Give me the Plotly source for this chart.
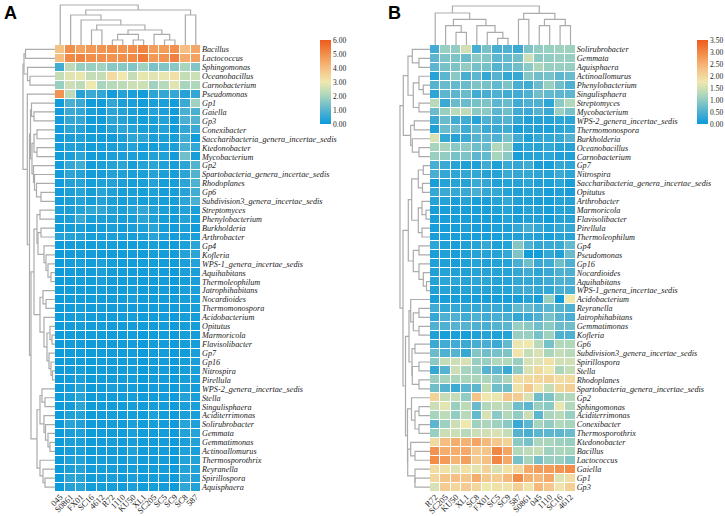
import plotly.graph_objects as go

columns_a = ["045","S0861","FX01","SC16","4612","R72","1110","KU50","XL1","SC205","SC5","SC9","SC8","587"]
columns_b = ["R72","SC205","KU50","XL1","SC8","FX01","SC5","SC9","587","S0861","045","1110","SC16","4612"]

rows_a = ["Bacillus","Lactococcus","Sphingomonas","Oceanobacillus","Carnobacterium","Pseudomonas","Gp1","Gaiella","Gp3","Conexibacter",
"Saccharibacteria_genera_incertae_sedis","Ktedonobacter","Mycobacterium","Gp2","Spartobacteria_genera_incertae_sedis","Rhodoplanes","Gp6",
"Subdivision3_genera_incertae_sedis","Streptomyces","Phenylobacterium","Burkholderia","Arthrobacter","Gp4","Kofleria","WPS-1_genera_incertae_sedis",
"Aquihabitans","Thermoleophilum","Jatrophihabitans","Nocardioides","Thermomonospora","Acidobacterium","Opitutus","Marmoricola","Flavisolibacter",
"Gp7","Gp16","Nitrospira","Pirellula","WPS-2_genera_incertae_sedis","Stella","Singulisphaera","Aciditerrimonas","Solirubrobacter","Gemmata",
"Gemmatimonas","Actinoallomurus","Thermosporothrix","Reyranella","Spirillospora","Aquisphaera"]

rows_b = ["Solirubrobacter","Gemmata","Aquisphaera","Actinoallomurus","Phenylobacterium","Singulisphaera","Streptomyces","Mycobacterium",
"WPS-2_genera_incertae_sedis","Thermomonospora","Burkholderia","Oceanobacillus","Carnobacterium","Gp7","Nitrospira",
"Saccharibacteria_genera_incertae_sedis","Opitutus","Arthrobacter","Marmoricola","Flavisolibacter","Pirellula","Thermoleophilum","Gp4","Pseudomonas",
"Gp16","Nocardioides","Aquihabitans","WPS-1_genera_incertae_sedis","Acidobacterium","Reyranella","Jatrophihabitans","Gemmatimonas","Kofleria","Gp6",
"Subdivision3_genera_incertae_sedis","Spirillospora","Stella","Rhodoplanes","Spartobacteria_genera_incertae_sedis","Gp2","Sphingomonas",
"Aciditerrimonas","Conexibacter","Thermosporothrix","Ktedonobacter","Bacillus","Lactococcus","Gaiella","Gp1","Gp3"]

values_a = [
[3.9,5.0,4.6,4.8,4.9,5.0,4.9,5.0,5.2,4.7,4.7,5.0,4.0,4.5],
[4.0,5.1,5.2,5.0,5.0,4.9,5.0,5.1,5.4,4.8,4.9,5.3,4.4,4.6],
[0.7,2.3,1.8,1.8,1.9,1.6,1.6,1.5,1.9,1.4,1.5,1.6,2.0,1.5],
[2.4,2.8,2.9,2.4,2.4,3.3,3.0,2.4,2.9,2.8,2.9,3.2,2.4,2.5],
[1.8,2.5,2.3,3.0,2.0,2.2,2.3,2.5,2.5,1.9,2.2,2.8,2.0,2.1],
[4.9,2.3,0.3,0.6,0.5,0.1,0.3,0.2,0.1,0.4,0.5,0.5,0.3,0.5],
[0.1,0.8,0.6,0.1,0.1,0.5,0.2,0.2,0.1,0.2,0.2,0.1,0.6,1.9],
[0.1,0.6,0.5,0.2,0.1,0.4,0.3,0.2,0.15,0.3,0.2,0.1,0.8,0.8],
[0.1,0.5,0.5,0.1,0.1,0.4,0.3,0.2,0.15,0.2,0.3,0.1,0.8,0.9],
[0.1,0.4,0.3,0.1,0.1,0.3,0.4,0.35,0.2,0.2,0.3,0.1,0.5,0.6],
[0.1,0.2,0.25,0.15,0.1,0.1,0.2,0.4,0.4,0.2,0.2,0.15,0.65,0.1],
[0.1,0.25,0.2,0.1,0.15,0.2,0.2,0.3,0.15,0.15,0.2,0.2,0.8,0.5],
[0.1,0.2,0.4,0.1,0.1,0.2,0.2,0.2,0.15,0.3,0.25,0.1,1.3,0.15],
[0.1,0.5,0.65,0.1,0.2,0.3,0.4,0.15,0.3,0.4,0.25,0.15,0.4,0.9],
[0.1,0.4,0.3,0.1,0.15,0.3,0.25,0.2,0.2,0.3,0.2,0.15,0.4,0.9],
[0.1,0.3,0.35,0.15,0.25,0.3,0.2,0.15,0.2,0.3,0.15,0.15,0.4,0.85],
[0.1,0.2,0.35,0.15,0.35,0.25,0.15,0.2,0.15,0.25,0.15,0.15,0.35,0.7],
[0.1,0.2,0.3,0.15,0.3,0.2,0.15,0.2,0.15,0.2,0.15,0.15,0.4,0.8],
[0.2,0.2,0.3,0.45,0.5,0.3,0.2,0.35,0.5,0.3,0.2,0.15,0.3,0.2],
[0.15,0.2,0.55,0.2,0.2,0.2,0.15,0.2,0.4,0.25,0.15,0.1,0.3,0.2],
[0.1,0.15,0.2,0.1,0.15,0.2,0.1,0.2,0.25,0.4,0.15,0.1,0.25,0.1],
[0.3,0.3,0.25,0.15,0.15,0.2,0.15,0.15,0.2,0.35,0.2,0.1,0.2,0.2],
[0.05,0.1,0.15,0.1,0.15,0.15,0.1,0.1,0.15,0.2,0.1,0.1,0.25,0.4],
[0.05,0.1,0.15,0.1,0.1,0.1,0.1,0.1,0.1,0.15,0.1,0.1,0.3,0.4],
[0.05,0.15,0.2,0.1,0.25,0.15,0.1,0.1,0.15,0.15,0.1,0.1,0.2,0.3],
[0.05,0.1,0.1,0.1,0.2,0.1,0.1,0.1,0.1,0.15,0.1,0.05,0.2,0.2],
[0.05,0.1,0.15,0.1,0.2,0.1,0.1,0.1,0.1,0.1,0.1,0.05,0.15,0.2],
[0.05,0.1,0.1,0.1,0.15,0.1,0.1,0.15,0.1,0.1,0.1,0.05,0.2,0.2],
[0.05,0.1,0.1,0.1,0.1,0.1,0.1,0.2,0.1,0.1,0.1,0.1,0.15,0.2],
[0.05,0.1,0.15,0.1,0.15,0.1,0.1,0.1,0.1,0.1,0.1,0.1,0.15,0.2],
[0.05,0.1,0.15,0.1,0.1,0.1,0.1,0.15,0.1,0.1,0.1,0.05,0.15,0.15],
[0.05,0.1,0.15,0.1,0.15,0.1,0.1,0.1,0.1,0.1,0.1,0.05,0.15,0.15],
[0.05,0.1,0.1,0.1,0.1,0.1,0.1,0.1,0.05,0.1,0.1,0.05,0.15,0.15],
[0.05,0.1,0.1,0.05,0.1,0.1,0.1,0.1,0.05,0.1,0.1,0.05,0.15,0.15],
[0.05,0.1,0.1,0.05,0.1,0.1,0.1,0.1,0.05,0.1,0.1,0.05,0.1,0.2],
[0.05,0.1,0.1,0.05,0.1,0.1,0.1,0.1,0.05,0.1,0.1,0.05,0.15,0.2],
[0.05,0.1,0.15,0.05,0.1,0.1,0.1,0.15,0.05,0.1,0.1,0.05,0.15,0.2],
[0.05,0.1,0.2,0.05,0.1,0.1,0.1,0.15,0.05,0.1,0.1,0.05,0.15,0.2],
[0.05,0.1,0.3,0.05,0.1,0.2,0.1,0.15,0.05,0.1,0.1,0.05,0.25,0.15],
[0.05,0.15,0.35,0.05,0.1,0.1,0.1,0.15,0.1,0.1,0.1,0.05,0.3,0.2],
[0.05,0.1,0.4,0.05,0.1,0.1,0.1,0.15,0.1,0.15,0.1,0.05,0.2,0.2],
[0.05,0.25,0.3,0.05,0.1,0.15,0.1,0.15,0.1,0.25,0.1,0.05,0.2,0.2],
[0.05,0.35,0.25,0.05,0.1,0.15,0.1,0.2,0.1,0.15,0.1,0.05,0.35,0.25],
[0.05,0.2,0.25,0.05,0.1,0.1,0.1,0.2,0.1,0.1,0.1,0.05,0.3,0.35],
[0.05,0.2,0.2,0.05,0.1,0.15,0.1,0.15,0.1,0.1,0.1,0.05,0.2,0.3],
[0.05,0.15,0.2,0.05,0.1,0.1,0.1,0.25,0.1,0.1,0.1,0.05,0.25,0.2],
[0.05,0.25,0.3,0.1,0.15,0.15,0.1,0.2,0.1,0.1,0.1,0.05,0.3,0.3],
[0.05,0.2,0.3,0.1,0.15,0.15,0.1,0.15,0.1,0.1,0.1,0.05,0.3,0.3],
[0.05,0.4,0.35,0.1,0.15,0.2,0.1,0.2,0.1,0.15,0.1,0.05,0.4,0.3],
[0.05,0.3,0.35,0.1,0.15,0.15,0.1,0.2,0.1,0.15,0.1,0.05,0.45,0.3],
]

values_b = [
[.4,1.05,1.0,1.5,.45,.8,.45,.5,.35,.85,1.0,1.05,1.1,1.1],
[.6,.85,.85,.7,.95,.9,.6,.65,.75,1.45,.95,1.0,1.05,1.05],
[.6,.8,.85,1.0,.8,.8,.55,.65,.75,.95,1.2,1.05,1.05,1.05],
[.2,.6,.95,.45,.6,.3,.55,.3,.3,.9,.75,.8,.6,.7],
[.55,.7,.65,.7,.85,.8,.65,.85,.45,.4,.7,1.05,.75,.5],
[.25,.6,.6,.7,.4,.45,.5,.4,.4,.5,.75,.65,.6,.6],
[1.3,.35,.7,.7,.8,.85,.6,.7,.4,.5,.5,.25,.95,1.25],
[.7,1.05,1.3,1.35,.95,.95,.6,.75,.4,.35,.55,.35,1.05,.8],
[.35,.7,.4,.4,.2,.5,.45,.55,.3,.15,.2,.2,.25,.25],
[.15,.7,.7,.4,.6,.35,.35,.4,.1,.2,.15,.15,.25,.3],
[1.55,.3,.2,.35,.55,.6,.5,.8,.4,.15,.3,.3,.35,.55],
[1.15,1.15,.95,.95,.75,.7,1.25,1.1,.15,.25,.2,.3,.2,.2],
[1.05,1.0,.8,.85,.6,.65,1.15,.95,.1,.2,.2,.25,.15,.15],
[.45,.35,.2,.15,.15,.4,.15,.35,.3,.4,.1,.1,.3,.25],
[.45,.3,.25,.3,.3,.2,.2,.35,.3,.3,.25,.2,.35,.25],
[.1,.2,.2,.2,.35,.3,.15,.2,.2,.25,.15,.15,.25,.1],
[.3,.35,.3,.35,.45,.3,.3,.2,.15,.2,.2,.1,.15,.1],
[.2,.2,.1,.2,.1,.1,.2,.3,.15,.15,.1,.1,.2,.2],
[.1,.1,.1,.1,.1,.1,.15,.2,.1,.2,.15,.1,.2,.2],
[.1,.1,.1,.1,.1,.1,.1,.2,.1,.15,.15,.05,.2,.2],
[.1,.1,.1,.15,.1,.1,.15,.15,.3,.45,.3,.2,.3,.3],
[.1,.1,.1,.1,.1,.1,.1,.15,.15,.2,.15,.1,.2,.2],
[.25,.15,.1,.15,.2,.3,.15,.2,.9,.5,.3,.35,.35,.65],
[.1,.15,.1,.15,.2,.2,.2,.3,.85,.05,.05,.3,.15,.7],
[.15,.15,.1,.15,.2,.15,.2,.2,.45,.75,.35,.4,.75,.5],
[.15,.2,.15,.15,.2,.2,.2,.2,.3,.4,.25,.35,.5,.5],
[.2,.25,.25,.2,.25,.25,.2,.2,.3,.3,.3,.4,.5,.5],
[.15,.2,.15,.2,.2,.2,.2,.2,.35,.4,.3,.3,.45,.45],
[.1,.1,.1,.1,.1,.1,.1,.1,.1,.2,.1,1.05,.05,1.75],
[.4,.3,.3,.3,.3,.35,.35,.3,.65,.65,.5,.6,.55,.5],
[.3,.5,.5,.4,.5,.4,.45,.45,.3,.35,.5,.8,.55,.45],
[.5,.5,.55,.55,.5,.45,.55,.6,1.05,.95,.75,.95,.7,.75],
[.15,.1,.1,.1,.15,.2,.15,.2,1.05,1.05,.8,1.1,.5,.5],
[.35,.4,.4,.35,.45,.45,.35,.65,1.7,1.75,1.3,.8,1.25,1.25],
[.7,.5,.55,.3,.9,.75,.8,.85,1.8,1.4,1.55,1.2,1.4,1.3],
[.95,1.4,1.45,1.55,1.05,1.05,1.25,1.25,1.05,1.55,1.6,1.85,1.5,1.5],
[.3,.55,1.45,1.15,1.05,.55,.6,.35,.95,1.55,1.95,1.75,1.2,1.4],
[1.05,1.15,1.2,1.2,1.2,1.2,1.0,1.2,1.9,1.95,2.0,2.05,1.9,1.95],
[.75,.55,.35,.6,.6,1.35,.75,.75,1.85,2.2,1.8,1.4,2.0,2.1],
[2.05,1.4,1.4,1.0,2.25,1.75,1.7,2.2,2.15,1.55,.75,.85,1.2,1.25],
[1.45,1.65,1.05,1.35,.7,1.25,1.35,1.3,.75,.6,1.05,.95,1.7,1.25],
[1.15,1.35,1.0,1.3,.65,1.55,.95,1.25,1.0,1.45,.6,1.2,1.3,1.05],
[.6,1.1,1.45,1.75,1.1,1.2,1.1,.95,.35,.6,1.15,1.0,1.25,1.15],
[1.05,1.45,1.45,1.3,1.45,1.5,1.55,1.4,.55,.45,.6,.6,.6,.7],
[1.95,2.35,2.55,2.5,2.65,2.4,2.2,2.05,.95,.8,1.2,1.2,1.1,1.05],
[2.85,2.55,2.55,2.6,2.2,2.25,3.0,2.65,1.25,1.35,1.4,1.1,1.2,1.15],
[2.95,2.75,2.45,2.7,2.15,2.3,3.0,2.6,.8,1.15,.8,1.05,1.05,.9],
[1.9,1.85,1.6,1.85,1.65,2.05,1.55,1.85,2.0,2.6,2.75,2.75,2.85,2.95],
[2.0,2.25,2.3,2.2,2.55,2.2,2.15,2.4,2.95,2.5,2.4,2.6,1.6,1.9],
[1.55,2.15,2.0,2.15,2.0,1.75,1.85,1.8,2.1,1.8,2.4,2.2,1.8,2.1],
]

# Clustering trees: each node is (merge height, child, child); an int child is a leaf index.
col_tree_a = (40, 0, (35,
    (30, 1, (25, 2, (20, (15, 3, 4),
        (15, (10.7, (5, 5, 6), (5, 7, 8)), (10.7, 9, (5, 10, 11)))))),
    (30, 12, 13)))
col_tree_b = (39,
    (32, 0, (25.7, (19.3, 1, (12.7, 2, 3)), (19.3, 4, (12.7, 5, (6.7, 6, 7))))),
    (31.7, (25.7, 8, 9), (25.7, (19.3, 10, 11), (19.3, 12, 13))))
row_tree_a = (32,
    (31, (29.5, 0, 1), (27.5, 2, (25, 3, 4))),
    (27.7, 5, (25.5,
        (24.5,
            (23.5, 6, (21, 7, 8)),
            (23, (21, (18, 9, 10), (18, 11, 12)),
                (21.5, 13, (20.5, 14, (18.5, 15, (14, 16, 17)))))),
        (24,
            (21,
                (18, (15, 18, 19), (17, (14, 20, 21), (11, 22, (9, 23, (7, 24, (4, 25, 26)))))),
                (15, (12, 27, (9, 28, 29)), (11, 30, (8, (5, 31, (3, 32, 33)), (6, 34, (4, 35, (2.5, 36, 37)))))),
            ),
            (18,
                (15, (13, 38, (10, 39, 40)), (11, 41, (9.5, 42, (7, 43, (5, 44, 45))))),
                (15, 46, (12, 47, (10, 48, 49))))))))
row_tree_b = (30,
    (26.7,
        (22,
            (17.7, 0, (11, 1, 2)),
            (16.7, (11, 3, (6.7, 4, 5)), (11, 6, 7))),
        (19.3, (15.7, 8, 9), (17.7, 10, (11, 11, 12)))),
    (27,
        (21.7,
            (18.3,
                (11.7, (6.7, 13, 14), (7.5, 15, 16)),
                (11.7, (8, 17, (4, 18, 19)), (8, 20, 21))),
            (16.7, (11, 22, 23), (11, 24, (6.7, 25, (3.5, 26, 27))))),
        (24.5,
            (21,
                (19.3, 28, (16.7, (11, 29, 30), (11, 31, 32))),
                (18, (15, 33, 34), (17.7, (11, 35, 36), (11, 37, 38)))),
            (22.5,
                (18.5, 39, (15, (11, 40, 41), (11, 42, 43))),
                (22.3, (19.3, 44, (15, 45, 46)), (15, 47, (15, 48, 49)))))))

color_stops = [[0.0,"#0A9ADB"],[0.167,"#5AB5CF"],[0.333,"#A8D5BD"],[0.5,"#EFE8AE"],[0.667,"#F6BE82"],[0.833,"#F28F4A"],[1.0,"#EE5A1E"]]
SERIF = "Liberation Serif"
TREE_COLOR = "#ABABAB"
W, H = 725, 516


def walk(node, xs, hs):
    """Append the bracket of this node; return (leaf position, height)."""
    if isinstance(node, int):
        return node, 0
    height, a, b = node
    pa, ha = walk(a, xs, hs)
    pb, hb = walk(b, xs, hs)
    xs += [pa, pa, pb, pb, None]
    hs += [ha, height, height, hb, None]
    return (pa + pb) / 2, height


fig = go.Figure()


def panel(suffix, col, row, values, col_tree, row_tree, zmax, box, bar_x, row_dx0, col_top):
    left, right, top, bottom = box
    n, m = len(row), len(col)
    ax = [f"{suffix*1}", f"{suffix+1}", f"{suffix+2}"]
    xname = [f"x{a}" for a in ax]
    yname = [f"y{a}" for a in ax]
    xl = [f"xaxis{a}" for a in ax]
    yl = [f"yaxis{a}" for a in ax]
    xdom = [left / W, right / W]
    ydom = [1 - bottom / H, 1 - top / H]
    fig.add_trace(go.Heatmap(
        z=values, x=list(range(m)), y=list(range(n)), xgap=1, ygap=1,
        zmin=0, zmax=zmax, colorscale=color_stops, hoverongaps=False,
        colorbar=dict(thicknessmode="pixels", thickness=10.5, lenmode="pixels", len=84,
                      x=bar_x / W, xanchor="left", y=1 - 124 / H, yanchor="bottom",
                      xpad=0, ypad=0, outlinewidth=0, borderwidth=0, ticks="",
                      tick0=0, dtick=1 if zmax == 6 else 0.5, tickformat=".2f",
                      ticklabelposition="outside",
                      tickfont=dict(family=SERIF, size=7.5, color="#222222")),
        xaxis=xname[0], yaxis=yname[0]))
    fig.update_layout({
        xl[0]: dict(domain=xdom, range=[-0.5, m - 0.5], tickmode="array", tickvals=list(range(m)), ticktext=col,
                    tickangle=-45, ticks="", showgrid=False, zeroline=False, showline=False, ticklabelstandoff=-2,
                    tickfont=dict(family=SERIF, size=8.5, color="#222222"), anchor=yname[0]),
        yl[0]: dict(domain=ydom, range=[n - 0.5, -0.5], tickmode="array", tickvals=list(range(n)),
                    ticktext=[f"<i>{r}</i>" for r in row], side="right", ticks="", showgrid=False,
                    zeroline=False, showline=False, anchor=xname[0],
                    tickfont=dict(family=SERIF, size=8.2, color="#222222")),
    })
    # column tree, above the heatmap
    xs, hs = [], []
    walk(col_tree, xs, hs)
    fig.add_trace(go.Scatter(x=xs, y=hs, mode="lines", line=dict(color=TREE_COLOR, width=1.2),
                             hoverinfo="skip", showlegend=False, xaxis=xname[1], yaxis=yname[1]))
    fig.update_layout({
        xl[1]: dict(domain=xdom, range=[-0.5, m - 0.5], visible=False, anchor=yname[1]),
        yl[1]: dict(domain=[1 - top / H, 1 - (top - col_top) / H], range=[0, col_top], visible=False, anchor=xname[1]),
    })
    # row tree, left of the heatmap
    ps, hs = [], []
    walk(row_tree, ps, hs)
    fig.add_trace(go.Scatter(x=hs, y=ps, mode="lines", line=dict(color=TREE_COLOR, width=1.2),
                             hoverinfo="skip", showlegend=False, xaxis=xname[2], yaxis=yname[2]))
    fig.update_layout({
        xl[2]: dict(domain=[(left - row_dx0) / W, left / W], range=[row_dx0, 0], visible=False, anchor=yname[2]),
        yl[2]: dict(domain=ydom, range=[n - 0.5, -0.5], visible=False, anchor=xname[2]),
    })


panel(1, columns_a, rows_a, values_a, col_tree_a, row_tree_a, 6, (55, 201, 45, 491.5), 319.5, 40, 44)
panel(4, columns_b, rows_b, values_b, col_tree_b, row_tree_b, 3.5, (430, 575.7, 45, 491.5), 696.7, 40, 44)

fig.update_layout(
    width=W, height=H, margin=dict(l=0, r=0, t=0, b=0, autoexpand=False), showlegend=False,
    paper_bgcolor="white", plot_bgcolor="white",
    font=dict(family=SERIF),
    annotations=[
        dict(text="<b>A</b>", x=2 / W, y=1 - 13 / H, xref="paper", yref="paper", xanchor="left", yanchor="middle",
             showarrow=False, font=dict(family="Liberation Sans", size=18, color="black")),
        dict(text="<b>B</b>", x=386 / W, y=1 - 13 / H, xref="paper", yref="paper", xanchor="left", yanchor="middle",
             showarrow=False, font=dict(family="Liberation Sans", size=18, color="black")),
    ],
)
fig.write_html("out.html", config={"displayModeBar": False}, post_script="document.body.style.margin='0';")
